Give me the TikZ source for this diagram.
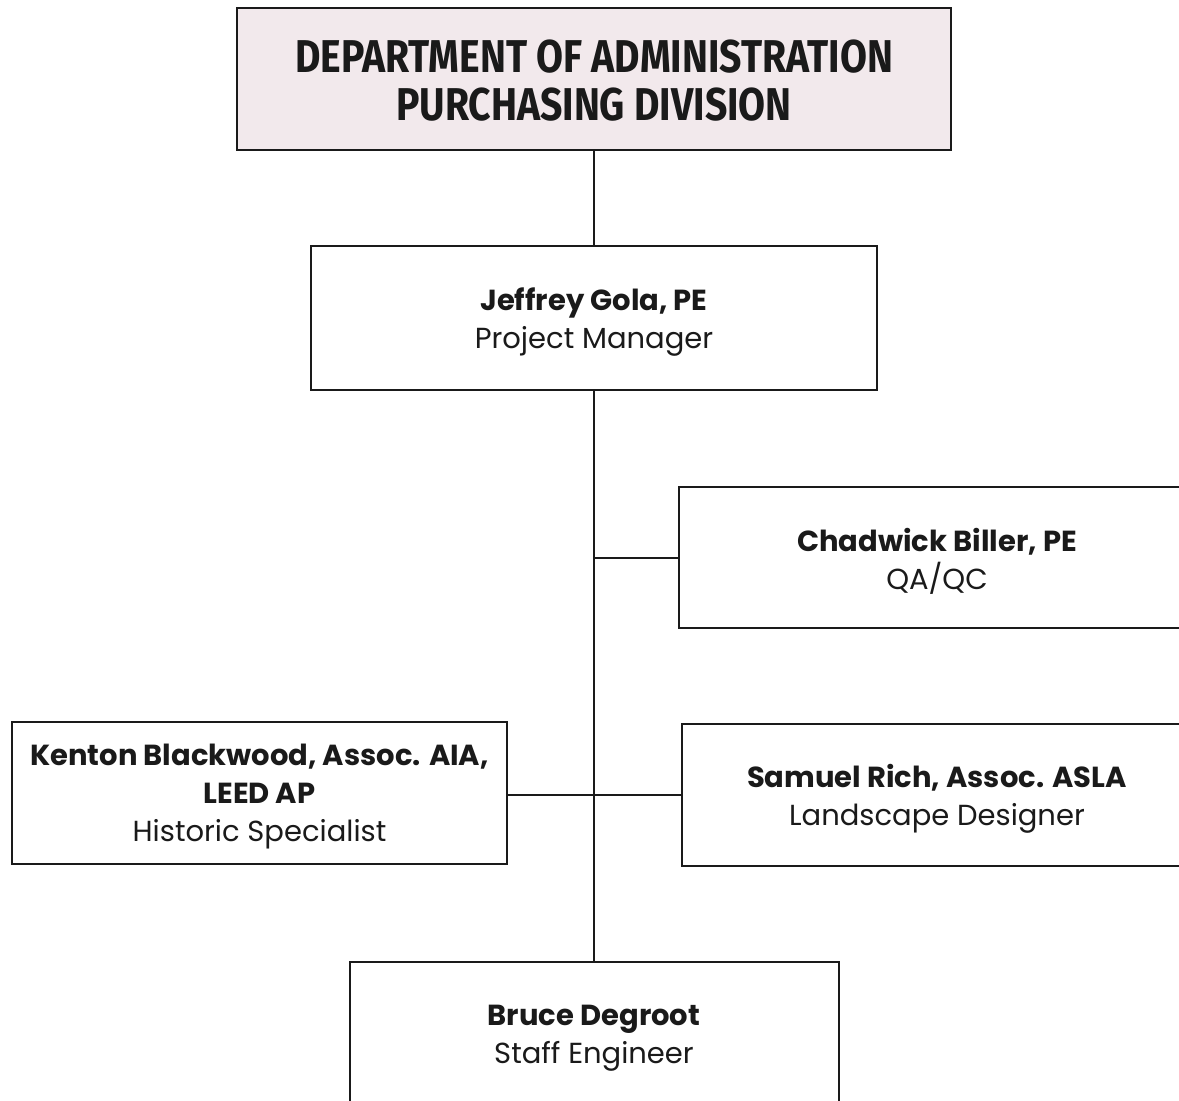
\documentclass[tikz,border=0pt]{standalone}
\usepackage{fontspec}
\setmainfont{Poppins}
\newfontfamily\headfont[FakeStretch=0.85]{Fira Sans}
\definecolor{headfill}{HTML}{F2E9EC}
\definecolor{ink}{HTML}{1A1A1A}
\begin{document}
\begin{tikzpicture}[x=0.5pt,y=-0.5pt,
  box/.style={draw=ink, line width=1pt, rectangle, inner sep=0pt},
  boxtext/.style={label={[inner sep=0pt, align=center, text=ink, yshift=-2pt,
     font=\fontsize{14.5}{19}\selectfont]center:#1}},
  link/.style={draw=ink, line width=1pt}]
\useasboundingbox (0,0) rectangle (1179,1100);
\fill[white] (0,0) rectangle (1179,1100);
\node[box, fill=headfill, minimum width=357pt, minimum height=71pt,
  label={[inner sep=0pt, align=center, text=ink, yshift=-1pt,
    font=\headfont\bfseries\fontsize{23}{24}\selectfont]center:{DEPARTMENT OF ADMINISTRATION\\PURCHASING DIVISION}}] (top) at (594,79) {};
\node[box, minimum width=283pt, minimum height=72pt,
  boxtext={{\textbf{Jeffrey Gola, PE}\\Project Manager}}] (pm) at (594,318) {};
\node[box, minimum width=258pt, minimum height=70.5pt,
  boxtext={{\textbf{Chadwick Biller, PE}\\QA/QC}}] (chad) at (937,557.5) {};
\node[box, minimum width=247.5pt, minimum height=71pt,
  boxtext={{\textbf{Kenton Blackwood, Assoc. AIA,}\\\textbf{LEED AP}\\Historic Specialist}}] (kent) at (259.5,793) {};
\node[box, minimum width=255pt, minimum height=71pt,
  boxtext={{\textbf{Samuel Rich, Assoc. ASLA}\\Landscape Designer}}] (sam) at (937,795) {};
\node[box, minimum width=244.5pt, minimum height=72.5pt,
  boxtext={{\textbf{Bruce Degroot}\\Staff Engineer}}] (bruce) at (594,1034.5) {};
\draw[link] (top.south) -- (pm.north);
\draw[link] (pm.south) -- (bruce.north);
\draw[link] (chad.west) -- (chad.west -| pm.south);
\draw[link] (kent.east |- sam.west) -- (sam.west);
\end{tikzpicture}
\end{document}
